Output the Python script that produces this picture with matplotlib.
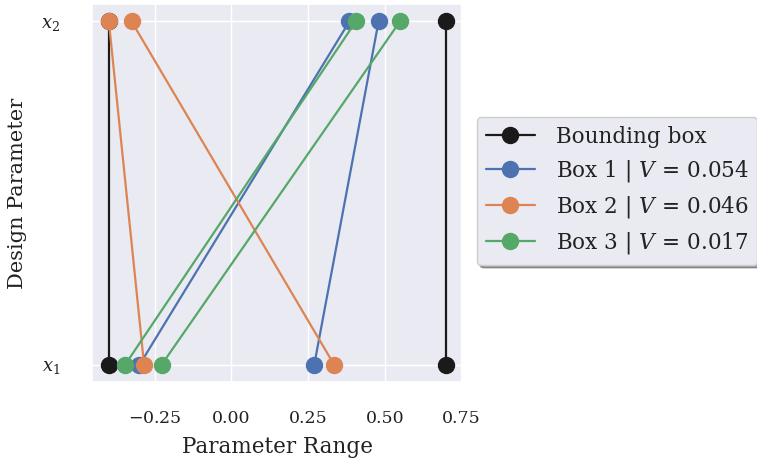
import matplotlib
matplotlib.use("Agg")
import matplotlib.pyplot as plt
import seaborn as sns

# Parameter bounds: (x1 lower, x1 upper), (x2 lower, x2 upper)
bounding_box = [(-0.40, 0.70), (-0.40, 0.70)]
box_names = ["Box 1", "Box 2", "Box 3"]
box_x1 = [(-0.300, 0.270), (-0.285, 0.335), (-0.347, -0.228)]
box_x2 = [(0.385, 0.480), (-0.400, -0.326), (0.406, 0.550)]
box_volumes = [0.054, 0.046, 0.017]
param_labels = ["$x_1$", "$x_2$"]

sns.set_theme(style="darkgrid")
plt.rcParams["font.family"] = ["DejaVu Serif"]
plt.rcParams["mathtext.fontset"] = "dejavuserif"

colors = sns.color_palette("deep")

fig = plt.figure(figsize=(7.57, 4.63), dpi=100)
ax = fig.add_axes([0.1215, 0.175, 0.49, 0.816])

ms = 11.5
lw = 1.6
ypos = [0, 1]

# Bounding box: vertical lines at lower and upper limits
ax.plot([bounding_box[0][0], bounding_box[1][0]], ypos, "-o", color="#1a1a1a",
        lw=lw, ms=ms, label="Bounding box")
ax.plot([bounding_box[0][1], bounding_box[1][1]], ypos, "-o", color="#1a1a1a",
        lw=lw, ms=ms)

for i, (name, b1, b2, v) in enumerate(zip(box_names, box_x1, box_x2, box_volumes)):
    c = colors[i]
    ax.plot([b1[0], b2[0]], ypos, "-o", color=c, lw=lw, ms=ms,
            label=f"{name} | $V\\,=\\,{v:.3f}$")
    ax.plot([b1[1], b2[1]], ypos, "-o", color=c, lw=lw, ms=ms)

ax.set_yticks(ypos)
ax.set_yticklabels(param_labels)
ax.set_xticks([-0.25, 0.0, 0.25, 0.50, 0.75])
ax.set_xticklabels(["$-$0.25", "0.00", "0.25", "0.50", "0.75"])
ax.tick_params(axis="x", labelsize=12.5, colors="#222222", pad=14)
ax.tick_params(axis="y", labelsize=13, colors="#222222", pad=17)
ax.set_xlabel("Parameter Range", fontsize=15.5, color="#222222")
ax.set_ylabel("Design Parameter", fontsize=15, color="#222222")
ax.xaxis.set_label_coords(0.5, -0.143)
ax.yaxis.set_label_coords(-0.175, 0.5)

leg = ax.legend(loc="center left", bbox_to_anchor=(1.009, 0.505), fontsize=15.5,
                shadow=True, fancybox=True, frameon=True,
                handlelength=2.3, borderpad=0.4, labelspacing=0.47,
                handletextpad=0.95)
leg.get_frame().set_edgecolor("#cccccc")
leg.get_frame().set_facecolor("#eaeaf2")
leg.get_frame().set_alpha(1.0)
for t in leg.get_texts():
    t.set_color("#222222")

fig.savefig("out.png", dpi=100)
